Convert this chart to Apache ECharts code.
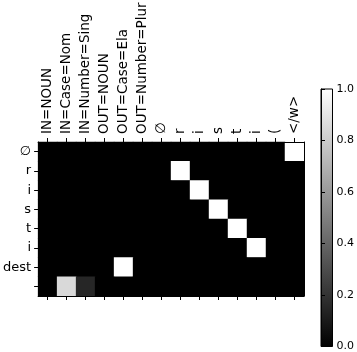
<!DOCTYPE html>
<html>
<head>
<meta charset="utf-8">
<script src="https://cdn.jsdelivr.net/npm/echarts@6/dist/echarts.min.js"></script>
<style>
html, body { margin: 0; padding: 0; background: #fff; }
#chart { width: 357px; height: 352px; }
</style>
</head>
<body>
<div id="chart"></div>
<script>
// columns (top axis) and rows (left axis)
var xLabels = ['IN=NOUN', 'IN=Case=Nom', 'IN=Number=Sing', 'OUT=NOUN', 'OUT=Case=Ela', 'OUT=Number=Plur', '∅', 'r', 'i', 's', 't', 'i', '(', '</w>'];
var yLabels = ['∅', 'r', 'i', 's', 't', 'i', 'dest', ''];
// non-zero attention weights: [row, col, value], everything else is 0
var peaks = [[0, 13, 1], [1, 7, 1], [2, 8, 1], [3, 9, 1], [4, 10, 1], [5, 11, 1], [6, 4, 1], [7, 1, 0.85], [7, 2, 0.15]];
var cbTicks = [0, 0.2, 0.4, 0.6, 0.8, 1.0];

var font = 'DejaVu Sans';
var gridTop = 142;

var cells = [];
for (var r = 0; r < yLabels.length; r++) {
	for (var c = 0; c < xLabels.length; c++) {
		cells.push([c, r, 0]);
	}
}
for (var i = 0; i < peaks.length; i++) {
	cells[peaks[i][0] * xLabels.length + peaks[i][1]][2] = peaks[i][2];
}

var tick = { show: true, alignWithLabel: true, interval: 0, length: 4, lineStyle: { color: '#000', width: 1 } };
var line = { show: true, lineStyle: { color: '#000', width: 1 } };

var myChart = echarts.init(document.getElementById('chart'));
var option = {
	animation: false,
	backgroundColor: '#fff',
	grid: [{
		left: 36, top: gridTop, width: 268, height: 154,
		show: true, backgroundColor: '#000', borderWidth: 0
	}, {
		left: 321, top: 89, width: 14, height: 259,
		show: true,
		borderColor: '#000',
		borderWidth: 1,
		backgroundColor: {
			type: 'linear', x: 0, y: 0, x2: 0, y2: 1,
			colorStops: [{ offset: 0, color: '#fff' }, { offset: 1, color: '#000' }]
		}
	}],
	xAxis: [{
		type: 'category', gridIndex: 0, position: 'top', data: xLabels, z: 10,
		axisLine: line, axisTick: tick,
		axisLabel: { show: false },
		splitLine: { show: false }
	}, {
		type: 'category', gridIndex: 0, position: 'bottom', data: xLabels, z: 10,
		axisLine: line, axisTick: tick,
		axisLabel: { show: false },
		splitLine: { show: false }
	}, {
		type: 'value', gridIndex: 1, show: false
	}],
	yAxis: [{
		type: 'category', gridIndex: 0, inverse: true, data: yLabels, z: 10,
		axisLine: line, axisTick: tick,
		axisLabel: { interval: 0, margin: 7, color: '#000', fontSize: 13, fontFamily: font },
		splitLine: { show: false }
	}, {
		type: 'category', gridIndex: 0, position: 'right', inverse: true, data: yLabels, z: 10,
		axisLine: line, axisTick: { show: false }, axisLabel: { show: false },
		splitLine: { show: false }
	}, {
		type: 'value', gridIndex: 1, position: 'right', min: 0, max: 1, interval: 0.2,
		axisLine: line,
		axisTick: { show: true, length: 4, lineStyle: { color: '#000' } },
		axisLabel: {
			margin: 4, color: '#000', fontSize: 11, fontFamily: font,
			formatter: function(v) { return v.toFixed(1); }
		},
		splitLine: { show: false }
	}],
	visualMap: {
		show: false,
		type: 'continuous',
		min: cbTicks[0],
		max: cbTicks[cbTicks.length - 1],
		seriesIndex: 0,
		inRange: { color: ['#000000', '#ffffff'] }
	},
	series: [{
		type: 'heatmap',
		xAxisIndex: 0,
		yAxisIndex: 0,
		data: cells,
		itemStyle: { borderWidth: 0 },
		emphasis: { disabled: true }
	}]
};
myChart.setOption(option);

// rotated column labels, placed at the axis' own tick positions
var labelEls = [];
for (var k = 0; k < xLabels.length; k++) {
	var px = myChart.convertToPixel({ xAxisIndex: 0 }, k);
	labelEls.push({
		type: 'text',
		x: px,
		y: gridTop - 8,
		rotation: Math.PI / 2,
		style: {
			text: xLabels[k],
			align: 'left',
			verticalAlign: 'middle',
			fill: '#000',
			font: '13.5px "' + font + '"'
		}
	});
}
myChart.setOption({ graphic: labelEls });
</script>
</body>
</html>
